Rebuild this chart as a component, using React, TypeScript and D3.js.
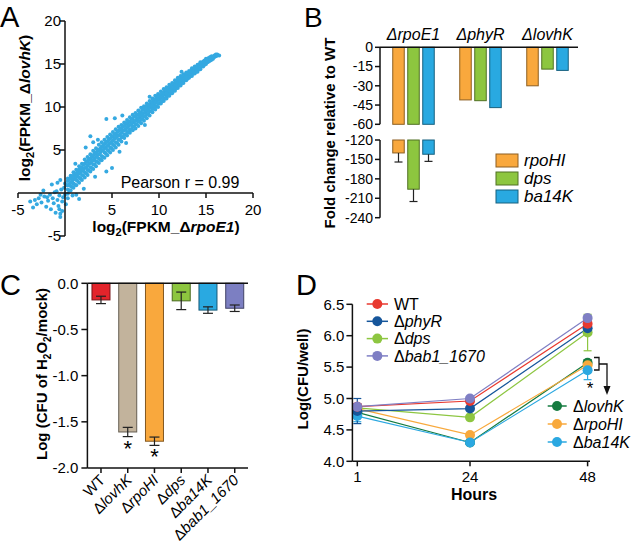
import React from 'react';
import * as d3 from 'd3';

const FONT = "'Liberation Sans', Arial, Helvetica, sans-serif";

// ---------------- Panel A data ----------------
const aTicks = [-5, 0, 5, 10, 15, 20];
const scatterColumns: [number, number[]][] = [
  [0.3, [-0.1, 0.4, 0.9, 1.4, 1.7]], [0.45, [0.3, 1.0, 1.6]],
  [0.6, [0.3, 0.8, 1.2, 1.7, 2.0]], [0.75, [0.7, 1.3, 1.9]],
  [0.9, [0.6, 1.1, 1.6, 2.0, 2.4]], [1.05, [1.0, 1.7, 2.2]],
  [1.2, [0.9, 1.5, 1.9, 2.3, 2.7]], [1.35, [1.4, 2.0, 2.6]],
  [1.5, [1.2, 1.8, 2.3, 2.7, 3.1]], [1.65, [1.7, 2.4, 2.9]],
  [1.8, [1.5, 2.1, 2.6, 3.0, 3.4]], [1.95, [2.0, 2.7, 3.3]],
  [2.1, [1.8, 2.4, 2.9, 3.4, 3.9]], [2.25, [2.3, 3.0, 3.6]],
  [2.4, [2.1, 2.7, 3.2, 3.7, 4.2]], [2.55, [2.6, 3.4, 3.9]],
  [2.7, [2.5, 3.0, 3.5, 4.0, 4.5]], [2.85, [2.9, 3.7, 4.2]],
  [3.0, [2.8, 3.3, 3.8, 4.4, 4.9]], [3.15, [3.3, 4.0, 4.6]],
  [3.3, [3.1, 3.7, 4.2, 4.7, 5.2]], [3.45, [3.6, 4.4, 4.9]],
  [3.6, [3.5, 4.0, 4.5, 5.0, 5.6]], [3.75, [3.9, 4.7, 5.2]],
  [3.9, [3.8, 4.3, 4.9, 5.4, 5.9]], [4.05, [4.2, 5.0, 5.5]],
  [4.2, [4.1, 4.7, 5.2, 5.7, 6.2]], [4.35, [4.6, 5.3, 5.9]],
  [4.5, [4.4, 5.0, 5.5, 6.0, 6.5]], [4.65, [4.9, 5.6, 6.2]],
  [4.8, [4.7, 5.3, 5.8, 6.3, 6.8]], [4.95, [5.2, 5.9, 6.5]],
  [5.1, [5.0, 5.6, 6.1, 6.6, 7.1]], [5.25, [5.5, 6.3, 6.8]],
  [5.4, [5.3, 5.9, 6.4, 6.9, 7.4]], [5.55, [5.8, 6.6, 7.1]],
  [5.7, [5.6, 6.2, 6.7, 7.2, 7.7]], [5.85, [6.2, 6.8, 7.4]],
  [6.0, [6.0, 6.5, 7.0, 7.5, 7.9]], [6.15, [6.5, 7.2, 7.7]],
  [6.3, [6.4, 6.8, 7.3, 7.8, 8.2]], [6.45, [6.8, 7.4, 8.0]],
  [6.6, [6.7, 7.1, 7.6, 8.1, 8.5]], [6.75, [7.1, 7.8, 8.3]],
  [6.9, [7.0, 7.4, 7.9, 8.3, 8.8]], [7.05, [7.4, 8.0, 8.6]],
  [7.2, [7.3, 7.7, 8.2, 8.6, 9.1]], [7.35, [7.7, 8.3, 8.9]],
  [7.5, [7.5, 8.0, 8.4, 8.9, 9.3]], [7.65, [8.0, 8.6, 9.1]],
  [7.8, [7.8, 8.3, 8.7, 9.1, 9.6]], [7.95, [8.3, 8.9, 9.4]],
  [8.1, [8.1, 8.6, 9.0, 9.4, 9.9]], [8.25, [8.6, 9.2, 9.7]],
  [8.4, [8.4, 8.9, 9.3, 9.7, 10.1]], [8.55, [8.9, 9.4, 10.0]],
  [8.7, [8.7, 9.2, 9.6, 10.0, 10.4]], [8.85, [9.2, 9.8, 10.2]],
  [9.0, [9.0, 9.5, 9.9, 10.3, 10.7]], [9.15, [9.5, 10.1, 10.5]],
  [9.3, [9.4, 9.8, 10.2, 10.6, 11.0]], [9.45, [9.8, 10.3, 10.8]],
  [9.6, [9.7, 10.1, 10.5, 10.9, 11.3]], [9.75, [10.1, 10.6, 11.1]],
  [9.9, [10.0, 10.4, 10.8, 11.2, 11.5]], [10.05, [10.4, 10.9, 11.3]],
  [10.2, [10.4, 10.7, 11.1, 11.4, 11.8]], [10.35, [10.7, 11.2, 11.6]],
  [10.5, [10.7, 11.0, 11.4, 11.7, 12.1]], [10.65, [11.0, 11.5, 11.9]],
  [10.8, [11.0, 11.3, 11.6, 12.0, 12.3]], [10.95, [11.3, 11.8, 12.1]],
  [11.1, [11.3, 11.6, 11.9, 12.3, 12.6]], [11.25, [11.6, 12.0, 12.4]],
  [11.4, [11.6, 11.9, 12.2, 12.5, 12.8]], [11.55, [11.9, 12.3, 12.7]],
  [11.7, [11.9, 12.2, 12.5, 12.8, 13.1]], [11.85, [12.2, 12.6, 12.9]],
  [12.0, [12.2, 12.5, 12.8, 13.1, 13.4]], [12.15, [12.5, 12.9, 13.2]],
  [12.3, [12.5, 12.8, 13.0, 13.3, 13.6]], [12.45, [12.8, 13.1, 13.5]],
  [12.6, [12.8, 13.1, 13.3, 13.6, 13.8]], [12.75, [13.1, 13.4, 13.7]],
  [12.9, [13.1, 13.3, 13.5, 13.8, 14.0]], [13.05, [13.3, 13.6, 13.9]],
  [13.2, [13.4, 13.6, 13.8, 14.0, 14.2]], [13.35, [13.6, 13.9, 14.1]],
  [13.5, [13.6, 13.8, 14.0, 14.3, 14.5]], [13.65, [13.9, 14.1, 14.4]],
  [13.8, [13.9, 14.1, 14.3, 14.5, 14.7]], [13.95, [14.1, 14.4, 14.6]],
  [14.1, [14.1, 14.3, 14.5, 14.7, 14.9]], [14.25, [14.4, 14.6, 14.9]],
  [14.4, [14.4, 14.6, 14.8, 15.0, 15.2]], [14.55, [14.7, 14.9, 15.1]],
  [14.7, [14.7, 14.9, 15.1, 15.3]], [14.85, [14.9, 15.2, 15.4]],
  [15.0, [15.0, 15.2, 15.4, 15.6]], [15.15, [15.2, 15.4, 15.6]],
  [15.3, [15.3, 15.5, 15.7]], [15.45, [15.4, 15.6, 15.8]],
  [15.6, [15.5, 15.7, 15.9]], [15.75, [15.6, 15.8]],
  [15.9, [15.8, 16.0]], [16.05, [15.9, 16.1]],
  [16.2, [16.0, 16.1]], [16.4, [16.0]],
];
const scatterOutliers: [number, number][] = [
  [4.4, 8.6], [5.3, 8.7], [2.7, 6.6], [1.1, 3.4], [4.4, 2.5], [5.0, 2.9],
  [1.5, -0.7], [3.5, 6.2], [2.2, 5.3], [3.0, 5.9], [5.8, 4.8], [6.5, 5.8],
  [2.0, 0.5], [3.2, 1.9], [8.5, 7.9], [9.0, 11.2], [12.4, 14.1], [6.1, 9.0],
  [-3.4, -1.7], [-3.7, -1.0], [-3.0, -1.3], [-2.8, -0.6], [-2.5, -1.1],
  [-2.2, -0.4], [-2.0, -1.6], [-1.8, -0.9], [-1.6, -0.2], [-1.5, -1.9],
  [-1.3, -0.6], [-1.2, -1.2], [-1.0, -2.3], [-0.9, 0.2], [-0.8, -0.8],
  [-0.7, -1.5], [-0.6, -0.3], [-0.5, -2.4], [-0.5, -2.8], [-0.4, 0.4],
  [-0.3, -1.0], [-0.2, -0.5], [-0.1, 0.6], [0.0, -0.2], [0.1, -1.3],
  [0.2, 0.9], [-1.1, 0.1], [-2.6, -0.2], [-3.2, -0.8], [-0.6, -1.9],
  [-1.9, -0.5], [-0.3, -2.1], [0.3, -0.6], [-1.4, 1.0], [-2.3, 0.3],
  [1.2, -0.2], [0.8, -0.3], [-0.8, 1.2], [-0.5, 1.5], [0.0, 1.1],
];

// ---------------- Panel B data ----------------
const bGroups = ['rpoE1', 'phyR', 'lovhK'];
const bGenes = ['rpoHI', 'dps', 'ba14K'];
const bColors = ['#f9a83d', '#8dc63f', '#29a9e1'];
const bValues = [[-140, -196, -142], [-41, -41.6, -47], [-30, -17, -18]];
const bErrors = [[14, 19, 11], [0, 0, 0], [0, 0, 0]];
const bTicksUpper = [0, -15, -30, -45, -60];
const bTicksLower = [-120, -150, -180, -210, -240];

// ---------------- Panel C data ----------------
const cStrains = ['WT', 'lovhK', 'rpoHI', 'dps', 'ba14K', 'bab1_1670'];
const cValues = [-0.18, -1.61, -1.71, -0.19, -0.29, -0.27];
const cErrors = [0.04, 0.05, 0.045, 0.095, 0.035, 0.035];
const cColors = ['#e3242b', '#c2b39c', '#f9a83d', '#8dc63f', '#29a9e1', '#7c7fc2'];
const cSignificant = [false, true, true, false, false, false];
const cTicks = [0, -0.5, -1, -1.5, -2];

// ---------------- Panel D data ----------------
const dHours = [1, 24, 48];
const dYTicks = [4.0, 4.5, 5.0, 5.5, 6.0, 6.5];
const dNames = ['WT', 'phyR', 'dps', 'bab1_1670', 'lovhK', 'rpoHI', 'ba14K'];
const dColors = ['#e8392f', '#16569b', '#8dc641', '#7f7fc4', '#157b40', '#f8a93c', '#2ba8e1'];
const dValues = [
  [4.87, 4.96, 6.19],
  [4.80, 4.84, 6.12],
  [4.85, 4.70, 6.05],
  [4.87, 5.00, 6.28],
  [4.78, 4.30, 5.57],
  [4.84, 4.42, 5.53],
  [4.72, 4.30, 5.45],
];
const dErrors = [
  [0.05, 0.03, 0.05],
  [0.2, 0.03, 0.05],
  [0.05, 0.03, 0.29],
  [0.05, 0.03, 0.04],
  [0.05, 0.03, 0.05],
  [0.05, 0.03, 0.06],
  [0.09, 0.04, 0.15],
];
const dDrawOrder = [4, 5, 6, 2, 1, 0, 3];

const darker = (c: string, k = 1.5) => d3.color(c)!.darker(k).formatHex();

function PanelA() {
  const x = d3.scaleLinear().domain([-5, 20]).range([18, 253]);
  const y = d3.scaleLinear().domain([-5, 20]).range([236, 21]);
  const pts: [number, number][] = [];
  scatterColumns.forEach(([cx, ys]) => ys.forEach((cy) => pts.push([cx, cy])));
  scatterOutliers.forEach((p) => pts.push(p));
  return (
    <g>
      <text x={0} y={27} fontSize={29} fontFamily={FONT}>A</text>
      {pts.map(([px, py], i) => (
        <circle key={i} cx={x(px)} cy={y(py)} r={2} fill="#35a9e1" />
      ))}
      <line x1={x(-5)} x2={x(20)} y1={y(0)} y2={y(0)} stroke="#111" strokeWidth={1.5} />
      <line x1={x(0)} x2={x(0)} y1={y(-5)} y2={y(20)} stroke="#111" strokeWidth={1.5} />
      {aTicks.filter((t) => t !== 0).map((t) => (
        <g key={'x' + t}>
          <line x1={x(t)} x2={x(t)} y1={y(0)} y2={y(0) + 5} stroke="#111" strokeWidth={1.5} />
          <text x={x(t)} y={215} textAnchor="middle" fontSize={15} fontFamily={FONT}>{t}</text>
        </g>
      ))}
      {aTicks.filter((t) => t !== 0).map((t) => (
        <g key={'y' + t}>
          <line x1={x(0) - 5} x2={x(0)} y1={y(t)} y2={y(t)} stroke="#111" strokeWidth={1.5} />
          <text x={x(0) - 4} y={y(t)} dy="0.35em" textAnchor="end" fontSize={15} fontFamily={FONT}>{t}</text>
        </g>
      ))}
      <text x={180} y={188} textAnchor="middle" fontSize={16} fontFamily={FONT}>Pearson r = 0.99</text>
      <text x={166} y={232} textAnchor="middle" fontSize={15.5} fontWeight="bold" fontFamily={FONT}>
        log<tspan dy={4} fontSize={11}>2</tspan><tspan dy={-4}>(FPKM_Δ</tspan><tspan fontStyle="italic">rpoE1</tspan>)
      </text>
      <text transform="translate(30,108) rotate(-90)" textAnchor="middle" fontSize={15.5} fontWeight="bold" fontFamily={FONT}>
        log<tspan dy={4} fontSize={11}>2</tspan><tspan dy={-4}>(FPKM_Δ</tspan><tspan fontStyle="italic">lovhK</tspan>)
      </text>
    </g>
  );
}

function PanelB() {
  const xg = d3.scaleBand().domain(bGroups).range([380, 581]);
  const xs = d3.scaleBand().domain(bGenes).range([12.75, 54.25]).paddingInner(0.2333);
  const yU = d3.scaleLinear().domain([0, -60]).range([47.3, 124.3]);
  const yL = d3.scaleLinear().domain([-120, -240]).range([140, 217.7]);
  const w = xs.bandwidth();
  const axisX = 380;
  return (
    <g>
      <text x={304} y={27} fontSize={28} fontFamily={FONT}>B</text>
      {bGroups.map((g) => (
        <text key={g} x={(xg(g) as number) + xg.bandwidth() / 2} y={40} textAnchor="middle" fontSize={16} fontStyle="italic" fontFamily={FONT}>Δ{g}</text>
      ))}
      {bGroups.map((g, gi) =>
        bGenes.map((gene, ji) => {
          const v = bValues[gi][ji];
          const e = bErrors[gi][ji];
          const bx = (xg(g) as number) + (xs(gene) as number);
          const col = bColors[ji];
          const st = darker(col, 1.6);
          const parts = [];
          let bottom;
          if (v >= -60) {
            parts.push(<rect key="u" x={bx} y={yU(0)} width={w} height={yU(v) - yU(0)} fill={col} stroke={st} strokeWidth={1} />);
            bottom = yU(v);
          } else {
            parts.push(<rect key="u" x={bx} y={yU(0)} width={w} height={yU(-60) - yU(0)} fill={col} stroke={st} strokeWidth={1} />);
            parts.push(<rect key="l" x={bx} y={yL(-120)} width={w} height={yL(v) - yL(-120)} fill={col} stroke={st} strokeWidth={1} />);
            bottom = yL(v);
          }
          if (e > 0) {
            const ye = v >= -60 ? yU(v - e) : yL(v - e);
            const cx = bx + w / 2;
            parts.push(<line key="e1" x1={cx} x2={cx} y1={bottom} y2={ye} stroke="#222" strokeWidth={1.2} />);
            parts.push(<line key="e2" x1={cx - 4} x2={cx + 4} y1={ye} y2={ye} stroke="#222" strokeWidth={1.2} />);
          }
          return <g key={g + gene}>{parts}</g>;
        })
      )}
      <line x1={axisX} x2={578} y1={yU(0)} y2={yU(0)} stroke="#111" strokeWidth={1.5} />
      <line x1={axisX} x2={axisX} y1={yU(0)} y2={yU(-60)} stroke="#111" strokeWidth={1.5} />
      <line x1={axisX} x2={axisX} y1={yL(-120)} y2={yL(-240)} stroke="#111" strokeWidth={1.5} />
      {bTicksUpper.map((t) => (
        <g key={'u' + t}>
          <line x1={axisX - 5} x2={axisX} y1={yU(t)} y2={yU(t)} stroke="#111" strokeWidth={1.5} />
          <text x={axisX - 7} y={yU(t)} dy="0.35em" textAnchor="end" fontSize={14} fontFamily={FONT}>{t}</text>
        </g>
      ))}
      {bTicksLower.map((t) => (
        <g key={'l' + t}>
          <line x1={axisX - 5} x2={axisX} y1={yL(t)} y2={yL(t)} stroke="#111" strokeWidth={1.5} />
          <text x={axisX - 7} y={yL(t)} dy="0.35em" textAnchor="end" fontSize={14} fontFamily={FONT}>{t}</text>
        </g>
      ))}
      <text transform="translate(335,133) rotate(-90)" textAnchor="middle" fontSize={15} fontWeight="bold" fontFamily={FONT}>Fold change relative to WT</text>
      {bGenes.map((gene, i) => (
        <g key={'lg' + gene}>
          <rect x={496} y={154 + i * 18} width={22} height={13} fill={bColors[i]} stroke={darker(bColors[i], 1.6)} strokeWidth={1} />
          <text x={524} y={166 + i * 18} fontSize={17} fontStyle="italic" fontFamily={FONT}>{gene}</text>
        </g>
      ))}
    </g>
  );
}

function PanelC() {
  const x = d3.scaleBand().domain(cStrains).range([87.6, 248.1]).paddingInner(0.327).paddingOuter(0.1636);
  const y = d3.scaleLinear().domain([0, -2]).range([283.3, 468]);
  const bw = x.bandwidth();
  const axisX = 87.4;
  return (
    <g>
      <text x={0} y={295} fontSize={29} fontFamily={FONT}>C</text>
      {cStrains.map((s, i) => {
        const bx = x(s) as number;
        const v = cValues[i];
        const e = cErrors[i];
        const cx = bx + bw / 2;
        return (
          <g key={s}>
            <rect x={bx} y={y(0)} width={bw} height={y(v) - y(0)} fill={cColors[i]} stroke={darker(cColors[i], 1.8)} strokeWidth={1} />
            <line x1={cx} x2={cx} y1={y(v + e)} y2={y(v - e)} stroke="#222" strokeWidth={1.2} />
            <line x1={cx - 5} x2={cx + 5} y1={y(v + e)} y2={y(v + e)} stroke="#222" strokeWidth={1.2} />
            <line x1={cx - 5} x2={cx + 5} y1={y(v - e)} y2={y(v - e)} stroke="#222" strokeWidth={1.2} />
            {cSignificant[i] && (
              <text x={cx} y={y(v - e) + 19} textAnchor="middle" fontSize={22} fontFamily={FONT}>*</text>
            )}
          </g>
        );
      })}
      <line x1={axisX} x2={248} y1={y(0)} y2={y(0)} stroke="#111" strokeWidth={1.5} />
      <line x1={axisX} x2={248} y1={y(-2)} y2={y(-2)} stroke="#111" strokeWidth={1.5} />
      <line x1={axisX} x2={axisX} y1={y(0)} y2={y(-2)} stroke="#111" strokeWidth={1.5} />
      {cTicks.map((t) => (
        <g key={t}>
          <line x1={axisX - 6} x2={axisX} y1={y(t)} y2={y(t)} stroke="#111" strokeWidth={1.5} />
          <text x={axisX - 9} y={y(t)} dy="0.35em" textAnchor="end" fontSize={15} fontFamily={FONT}>{t.toFixed(1)}</text>
        </g>
      ))}
      {cStrains.map((s) => {
        const cx = (x(s) as number) + bw / 2;
        return (
          <g key={'t' + s}>
            <line x1={cx} x2={cx} y1={y(-2)} y2={y(-2) + 5} stroke="#111" strokeWidth={1.5} />
            <text transform={`translate(${cx + 5},${y(-2) + 13}) rotate(-45)`} textAnchor="end" fontSize={15} fontFamily={FONT}>
              {s === 'WT' ? 'WT' : <><tspan>Δ</tspan><tspan fontStyle="italic">{s}</tspan></>}
            </text>
          </g>
        );
      })}
      <text transform="translate(47,374) rotate(-90)" textAnchor="middle" fontSize={15} fontWeight="bold" fontFamily={FONT}>
        Log (CFU of H<tspan dy={4} fontSize={10}>2</tspan><tspan dy={-4}>O</tspan><tspan dy={4} fontSize={10}>2</tspan><tspan dy={-4}>/mock)</tspan>
      </text>
    </g>
  );
}

function PanelD() {
  const x = d3.scaleLinear().domain([0, 48]).range([352.4, 587.6]);
  const y = d3.scaleLinear().domain([4, 6.5]).range([461.3, 304.3]);
  const axisX = 352.4;
  const line = d3.line<number>().x((_, i) => x(dHours[i])).y((v) => y(v));
  const topLegend = [0, 1, 2, 3];
  const botLegend = [4, 5, 6];
  const label = (i: number) => (dNames[i] === 'WT' ? 'WT' : <><tspan>Δ</tspan><tspan fontStyle="italic">{dNames[i]}</tspan></>);
  return (
    <g>
      <text x={296} y={295} fontSize={29} fontFamily={FONT}>D</text>
      {dDrawOrder.map((si) => (
        <path key={'l' + si} d={line(dValues[si]) as string} fill="none" stroke={dColors[si]} strokeWidth={1.2} />
      ))}
      {dDrawOrder.map((si) =>
        dValues[si].map((v, hi) => {
          const e = dErrors[si][hi];
          const cx = x(dHours[hi]);
          return (
            <g key={'e' + si + '-' + hi}>
              <line x1={cx} x2={cx} y1={y(v + e)} y2={y(v - e)} stroke={dColors[si]} strokeWidth={1.2} />
              <line x1={cx - 4} x2={cx + 4} y1={y(v + e)} y2={y(v + e)} stroke={dColors[si]} strokeWidth={1.2} />
              <line x1={cx - 4} x2={cx + 4} y1={y(v - e)} y2={y(v - e)} stroke={dColors[si]} strokeWidth={1.2} />
            </g>
          );
        })
      )}
      {dDrawOrder.map((si) =>
        dValues[si].map((v, hi) => (
          <circle key={'c' + si + '-' + hi} cx={x(dHours[hi])} cy={y(v)} r={5} fill={dColors[si]} />
        ))
      )}
      <line x1={axisX} x2={axisX} y1={y(4)} y2={y(6.5)} stroke="#111" strokeWidth={1.5} />
      <line x1={axisX} x2={590} y1={y(4)} y2={y(4)} stroke="#111" strokeWidth={1.5} />
      {dYTicks.map((t) => (
        <g key={'y' + t}>
          <line x1={axisX - 6} x2={axisX} y1={y(t)} y2={y(t)} stroke="#111" strokeWidth={1.5} />
          <text x={axisX - 8} y={y(t)} dy="0.35em" textAnchor="end" fontSize={15} fontFamily={FONT}>{t.toFixed(1)}</text>
        </g>
      ))}
      {dHours.map((h) => (
        <g key={'x' + h}>
          <line x1={x(h)} x2={x(h)} y1={y(4)} y2={y(4) + 5} stroke="#111" strokeWidth={1.5} />
          <text x={x(h)} y={482} textAnchor="middle" fontSize={15} fontFamily={FONT}>{h}</text>
        </g>
      ))}
      <text x={474} y={500} textAnchor="middle" fontSize={16} fontWeight="bold" fontFamily={FONT}>Hours</text>
      <text transform="translate(308,379) rotate(-90)" textAnchor="middle" fontSize={15} fontWeight="bold" fontFamily={FONT}>Log(CFU/well)</text>
      {topLegend.map((si, k) => {
        const ly = 304 + k * 17.3;
        return (
          <g key={'tl' + si}>
            <line x1={366.7} x2={388} y1={ly} y2={ly} stroke={dColors[si]} strokeWidth={1.5} />
            <circle cx={377.3} cy={ly} r={5} fill={dColors[si]} />
            <text x={394} y={ly} dy="0.36em" fontSize={16} fontFamily={FONT}>{label(si)}</text>
          </g>
        );
      })}
      {botLegend.map((si, k) => {
        const ly = 406 + k * 18;
        return (
          <g key={'bl' + si}>
            <line x1={547.7} x2={566.7} y1={ly} y2={ly} stroke={dColors[si]} strokeWidth={1.5} />
            <circle cx={557} cy={ly} r={5} fill={dColors[si]} />
            <text x={573} y={ly} dy="0.36em" fontSize={16} fontFamily={FONT}>{label(si)}</text>
          </g>
        );
      })}
      <path d="M594,357.5 H599 V370 H594 M599,364 H607 V388" fill="none" stroke="#111" strokeWidth={1.3} />
      <path d="M603.5,386 L610.5,386 L607,395 Z" fill="#111" />
      <text x={590} y={394} textAnchor="middle" fontSize={17} fontFamily={FONT}>*</text>
    </g>
  );
}

export default function App() {
  return (
    <svg width={633} height={556} viewBox="0 0 633 556" style={{ position: 'absolute', left: 0, top: 0, background: '#fff' }}>
      <rect x={0} y={0} width={633} height={556} fill="#fff" />
      <PanelA />
      <PanelB />
      <PanelC />
      <PanelD />
    </svg>
  );
}
